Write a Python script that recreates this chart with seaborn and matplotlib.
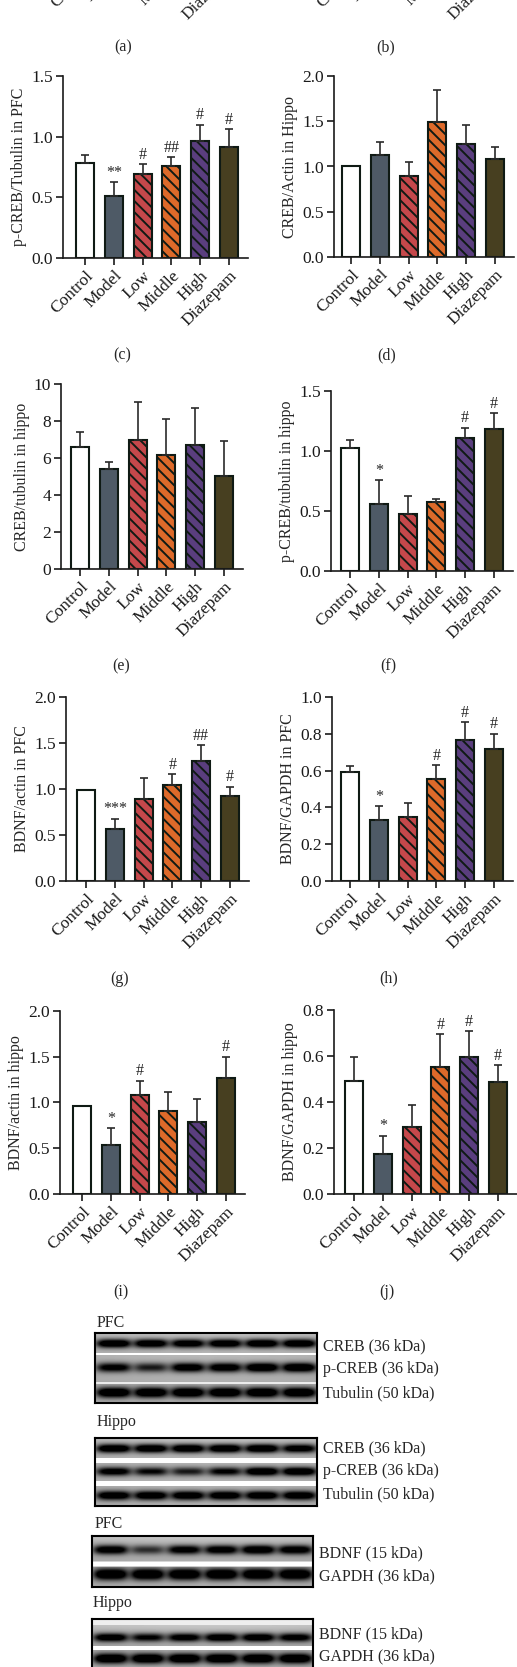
import numpy as np
import pandas as pd
import matplotlib
matplotlib.use('Agg')
import matplotlib.pyplot as plt
import matplotlib.transforms as mtransforms
import seaborn as sns

# --- DADOS ---
groups = ['Control', 'Model', 'Low', 'Middle', 'High', 'Diazepam']

c_mean = [0.785, 0.508, 0.696, 0.762, 0.966, 0.917]
c_err = [0.068, 0.115, 0.075, 0.067, 0.134, 0.143]
c_sig = ['', '**', '#', '##', '#', '#']

d_mean = [1.0, 1.129, 0.90, 1.489, 1.246, 1.081]
d_err = [0.0, 0.139, 0.155, 0.36, 0.21, 0.139]
d_sig = ['', '', '', '', '', '']

e_mean = [6.59, 5.41, 6.97, 6.16, 6.68, 5.03]
e_err = [0.80, 0.36, 2.06, 1.95, 2.02, 1.91]
e_sig = ['', '', '', '', '', '']

f_mean = [1.021, 0.559, 0.476, 0.576, 1.105, 1.18]
f_err = [0.067, 0.20, 0.147, 0.025, 0.089, 0.136]
f_sig = ['', '*', '', '', '#', '#']

g_mean = [0.984, 0.57, 0.889, 1.045, 1.30, 0.929]
g_err = [0.0, 0.109, 0.231, 0.115, 0.177, 0.098]
g_sig = ['', '***', '', '#', '##', '#']

h_mean = [0.595, 0.33, 0.348, 0.557, 0.764, 0.72]
h_err = [0.029, 0.075, 0.075, 0.071, 0.098, 0.08]
h_sig = ['', '*', '', '#', '#', '#']

i_mean = [0.964, 0.54, 1.077, 0.912, 0.792, 1.263]
i_err = [0.0, 0.18, 0.16, 0.205, 0.248, 0.237]
i_sig = ['', '*', '#', '', '', '#']

j_mean = [0.493, 0.173, 0.293, 0.551, 0.594, 0.486]
j_err = [0.103, 0.08, 0.095, 0.143, 0.113, 0.073]
j_sig = ['', '*', '', '#', '#', '#']

# intensidade das bandas (0-1) por canaleta
pfc_creb = [0.95, 0.92, 0.88, 0.92, 0.95, 0.95]
pfc_pcreb = [0.78, 0.58, 0.88, 0.88, 0.97, 0.97]
pfc_tub = [1.0, 1.0, 1.0, 1.0, 1.0, 1.0]
hip_creb = [0.95, 0.95, 0.95, 0.95, 0.97, 0.85]
hip_pcreb = [0.82, 0.68, 0.58, 0.72, 0.97, 0.97]
hip_tub = [0.92, 0.92, 0.92, 0.92, 0.92, 0.92]
pfc_bdnf = [0.88, 0.5, 0.82, 0.86, 0.95, 0.88]
pfc_gapdh = [1.0, 1.0, 1.0, 1.0, 1.0, 1.0]
hip_bdnf = [0.88, 0.72, 0.82, 0.9, 0.9, 0.82]
hip_gapdh = [1.0, 1.0, 1.0, 1.0, 1.0, 1.0]

# --- ESTILO ---
W, H, DPI = 517, 1667, 100
colors = ['#ffffff', '#4e5a66', '#c5484b', '#dd6a2a', '#5a3e7e', '#473f20']
hatched = [False, False, True, True, True, False]
EDGE = '#0f1a14'
FS = 11.5
FS_TICK = 12.5

sns.set_theme(style='ticks')
plt.rcParams['font.family'] = ['Liberation Serif', 'DejaVu Serif']
plt.rcParams['hatch.linewidth'] = 1.4
plt.rcParams['hatch.color'] = EDGE

fig = plt.figure(figsize=(W / DPI, H / DPI), dpi=DPI)
fig.patch.set_facecolor('white')


def px_axes(left, top, right, bottom):
    return fig.add_axes([left / W, 1 - bottom / H, (right - left) / W, (bottom - top) / H])


def fig_text(x, y, s, size=FS, **kw):
    return fig.text(x / W, 1 - y / H, s, fontsize=size, **kw)


SP = 28.8  # distancia entre barras (px)
shift = mtransforms.ScaledTranslation(6 / DPI, -3 / DPI, fig.dpi_scale_trans)


def rotulos_x(ax):
    ax.set_xticks(np.arange(len(groups)))
    ax.set_xticklabels(groups, rotation=45, ha='right', rotation_mode='anchor', fontsize=FS_TICK)
    for lab in ax.get_xticklabels():
        lab.set_transform(lab.get_transform() + shift)


def barra(mean, err, sig, ylabel, ylim, yticks, fmt, spine, ctrl, top, bottom):
    right = ctrl + 5 * SP + 19
    ax = px_axes(spine, top, right, bottom)
    df = pd.DataFrame({'group': groups, 'value': mean})
    sns.barplot(data=df, x='group', y='value', hue='group', palette=dict(zip(groups, colors)),
                legend=False, width=0.62, edgecolor=EDGE, linewidth=1.5, errorbar=None,
                saturation=1, ax=ax)
    for patch, hh in zip(ax.patches, hatched):
        if hh:
            patch.set_hatch('\\\\\\')
    x = np.arange(len(groups))
    m = np.array(mean)
    e = np.array(err)
    ok = e > 0
    ax.errorbar(x[ok], m[ok], yerr=[np.zeros(ok.sum()), e[ok]], fmt='none', ecolor='#2a2a2a',
                elinewidth=1.2, capsize=3, capthick=1.2, zorder=1)
    for xi, mi, ei, s in zip(x, m, e, sig):
        if s:
            ax.annotate(s, (xi, mi + ei), xytext=(0, 1), textcoords='offset points',
                        ha='center', va='bottom', fontsize=FS)
    ax.set_xlim(-(ctrl - spine) / SP, 5 + 19 / SP)
    ax.set_ylim(*ylim)
    ax.set_yticks(yticks)
    ax.set_yticklabels([fmt.format(t) for t in yticks], fontsize=FS_TICK)
    rotulos_x(ax)
    ax.set_xlabel('')
    ax.set_ylabel(ylabel, fontsize=FS, labelpad=3)
    ax.tick_params(length=5, width=1.2, colors='#1a1a1a', pad=2)
    for s in ['left', 'bottom']:
        ax.spines[s].set_linewidth(1.2)
        ax.spines[s].set_color('#1a1a1a')
    sns.despine(ax=ax)
    return ax


# paineis (a) e (b) cortados no topo: so os rotulos aparecem
for spine, ctrl in [(63, 85), (334, 351)]:
    ax = px_axes(spine, -240, ctrl + 5 * SP + 19, -48)
    ax.set_xlim(-(ctrl - spine) / SP, 5 + 19 / SP)
    rotulos_x(ax)
    ax.set_yticks([])
    ax.tick_params(length=5, pad=2)
    sns.despine(ax=ax)

barra(c_mean, c_err, c_sig, 'p-CREB/Tubulin in PFC', (0, 1.5), [0, 0.5, 1.0, 1.5], '{:.1f}', 63, 85, 76, 258)
barra(d_mean, d_err, d_sig, 'CREB/Actin in Hippo', (0, 2.0), [0, 0.5, 1.0, 1.5, 2.0], '{:.1f}', 334, 351, 76, 257)
barra(e_mean, e_err, e_sig, 'CREB/tubulin in hippo', (0, 10), [0, 2, 4, 6, 8, 10], '{:.0f}', 61, 80, 384, 569)
barra(f_mean, f_err, f_sig, 'p-CREB/tubulin in hippo', (0, 1.5), [0, 0.5, 1.0, 1.5], '{:.1f}', 331, 350, 391, 571)
barra(g_mean, g_err, g_sig, 'BDNF/actin in PFC', (0, 2.0), [0, 0.5, 1.0, 1.5, 2.0], '{:.1f}', 66, 86, 697, 881)
barra(h_mean, h_err, h_sig, 'BDNF/GAPDH in PFC', (0, 1.0), [0, 0.2, 0.4, 0.6, 0.8, 1.0], '{:.1f}', 332, 350, 697, 881)
barra(i_mean, i_err, i_sig, 'BDNF/actin in hippo', (0, 2.0), [0, 0.5, 1.0, 1.5, 2.0], '{:.1f}', 60, 82, 1011, 1194)
barra(j_mean, j_err, j_sig, 'BDNF/GAPDH in hippo', (0, 0.8), [0, 0.2, 0.4, 0.6, 0.8], '{:.1f}', 334, 354, 1010, 1194)

for lab, x, y in [('(a)', 123, 47), ('(b)', 386, 47), ('(c)', 122, 355), ('(d)', 387, 355),
                  ('(e)', 121, 666), ('(f)', 388, 666), ('(g)', 120, 979), ('(h)', 389, 978),
                  ('(i)', 121, 1292), ('(j)', 387, 1292)]:
    fig_text(x, y, lab, ha='center', va='center')


# --- WESTERN BLOTS ---
def blot(left, top, right, bottom, bands, seps):
    w, h = int(right - left), int(bottom - top)
    yy, xx = np.mgrid[0:h, 0:w].astype(float)
    img = 0.80 - 0.05 * (yy / h) + 0.03 * np.sin(xx / w * 3.0)
    lane_w = w / 6.0
    for yc, hw, inten in bands:
        halo = np.exp(-((yy - yc) / (hw * 2.6)) ** 2)
        img = img * (1 - 0.18 * halo)
        for k, val in enumerate(inten):
            xc = (k + 0.5) * lane_w
            px = np.exp(-((xx - xc) / (0.47 * lane_w)) ** 4)
            py = np.exp(-((yy - yc) / hw) ** 2)
            img = img * (1 - np.clip(val * px * py * 1.5, 0, 1))
    for ys, th, lev in seps:
        img[(yy >= ys) & (yy < ys + th)] = lev
    ax = px_axes(left, top, right, bottom)
    ax.imshow(np.clip(img, 0, 1), cmap='gray', vmin=0, vmax=1, aspect='auto', interpolation='bilinear')
    ax.set_xticks([])
    ax.set_yticks([])
    for s in ax.spines.values():
        s.set_linewidth(1.5)
        s.set_color('black')
    return ax


blot(95, 1333, 317, 1403,
     [(10, 4.2, pfc_creb), (34, 4.6, pfc_pcreb), (59, 5.0, pfc_tub)],
     [(20, 2, 1.0), (49, 2, 0.92)])
blot(95, 1438, 317, 1506,
     [(10, 4.2, hip_creb), (33, 4.2, hip_pcreb), (57, 4.4, hip_tub)],
     [(20, 5, 1.0), (43, 5, 1.0)])
blot(92, 1536, 313, 1587,
     [(14, 4.4, pfc_bdnf), (38, 5.6, pfc_gapdh)],
     [(26, 5, 1.0)])
blot(92, 1619, 313, 1672,
     [(18, 4.2, hip_bdnf), (39, 5.0, hip_gapdh)],
     [(0, 6, 0.93), (27, 4, 1.0)])

fig_text(97, 1323, 'PFC', ha='left', va='center')
fig_text(97, 1422, 'Hippo', ha='left', va='center')
fig_text(95, 1524, 'PFC', ha='left', va='center')
fig_text(93, 1603, 'Hippo', ha='left', va='center')
for txt, x, y in [('CREB (36 kDa)', 323, 1346), ('p-CREB (36 kDa)', 323, 1369), ('Tubulin (50 kDa)', 323, 1393),
                  ('CREB (36 kDa)', 323, 1448), ('p-CREB (36 kDa)', 323, 1471), ('Tubulin (50 kDa)', 323, 1494),
                  ('BDNF (15 kDa)', 319, 1553), ('GAPDH (36 kDa)', 319, 1576),
                  ('BDNF (15 kDa)', 319, 1634), ('GAPDH (36 kDa)', 319, 1656)]:
    fig_text(x, y, txt, ha='left', va='center')

fig.savefig('out.png', dpi=DPI)
